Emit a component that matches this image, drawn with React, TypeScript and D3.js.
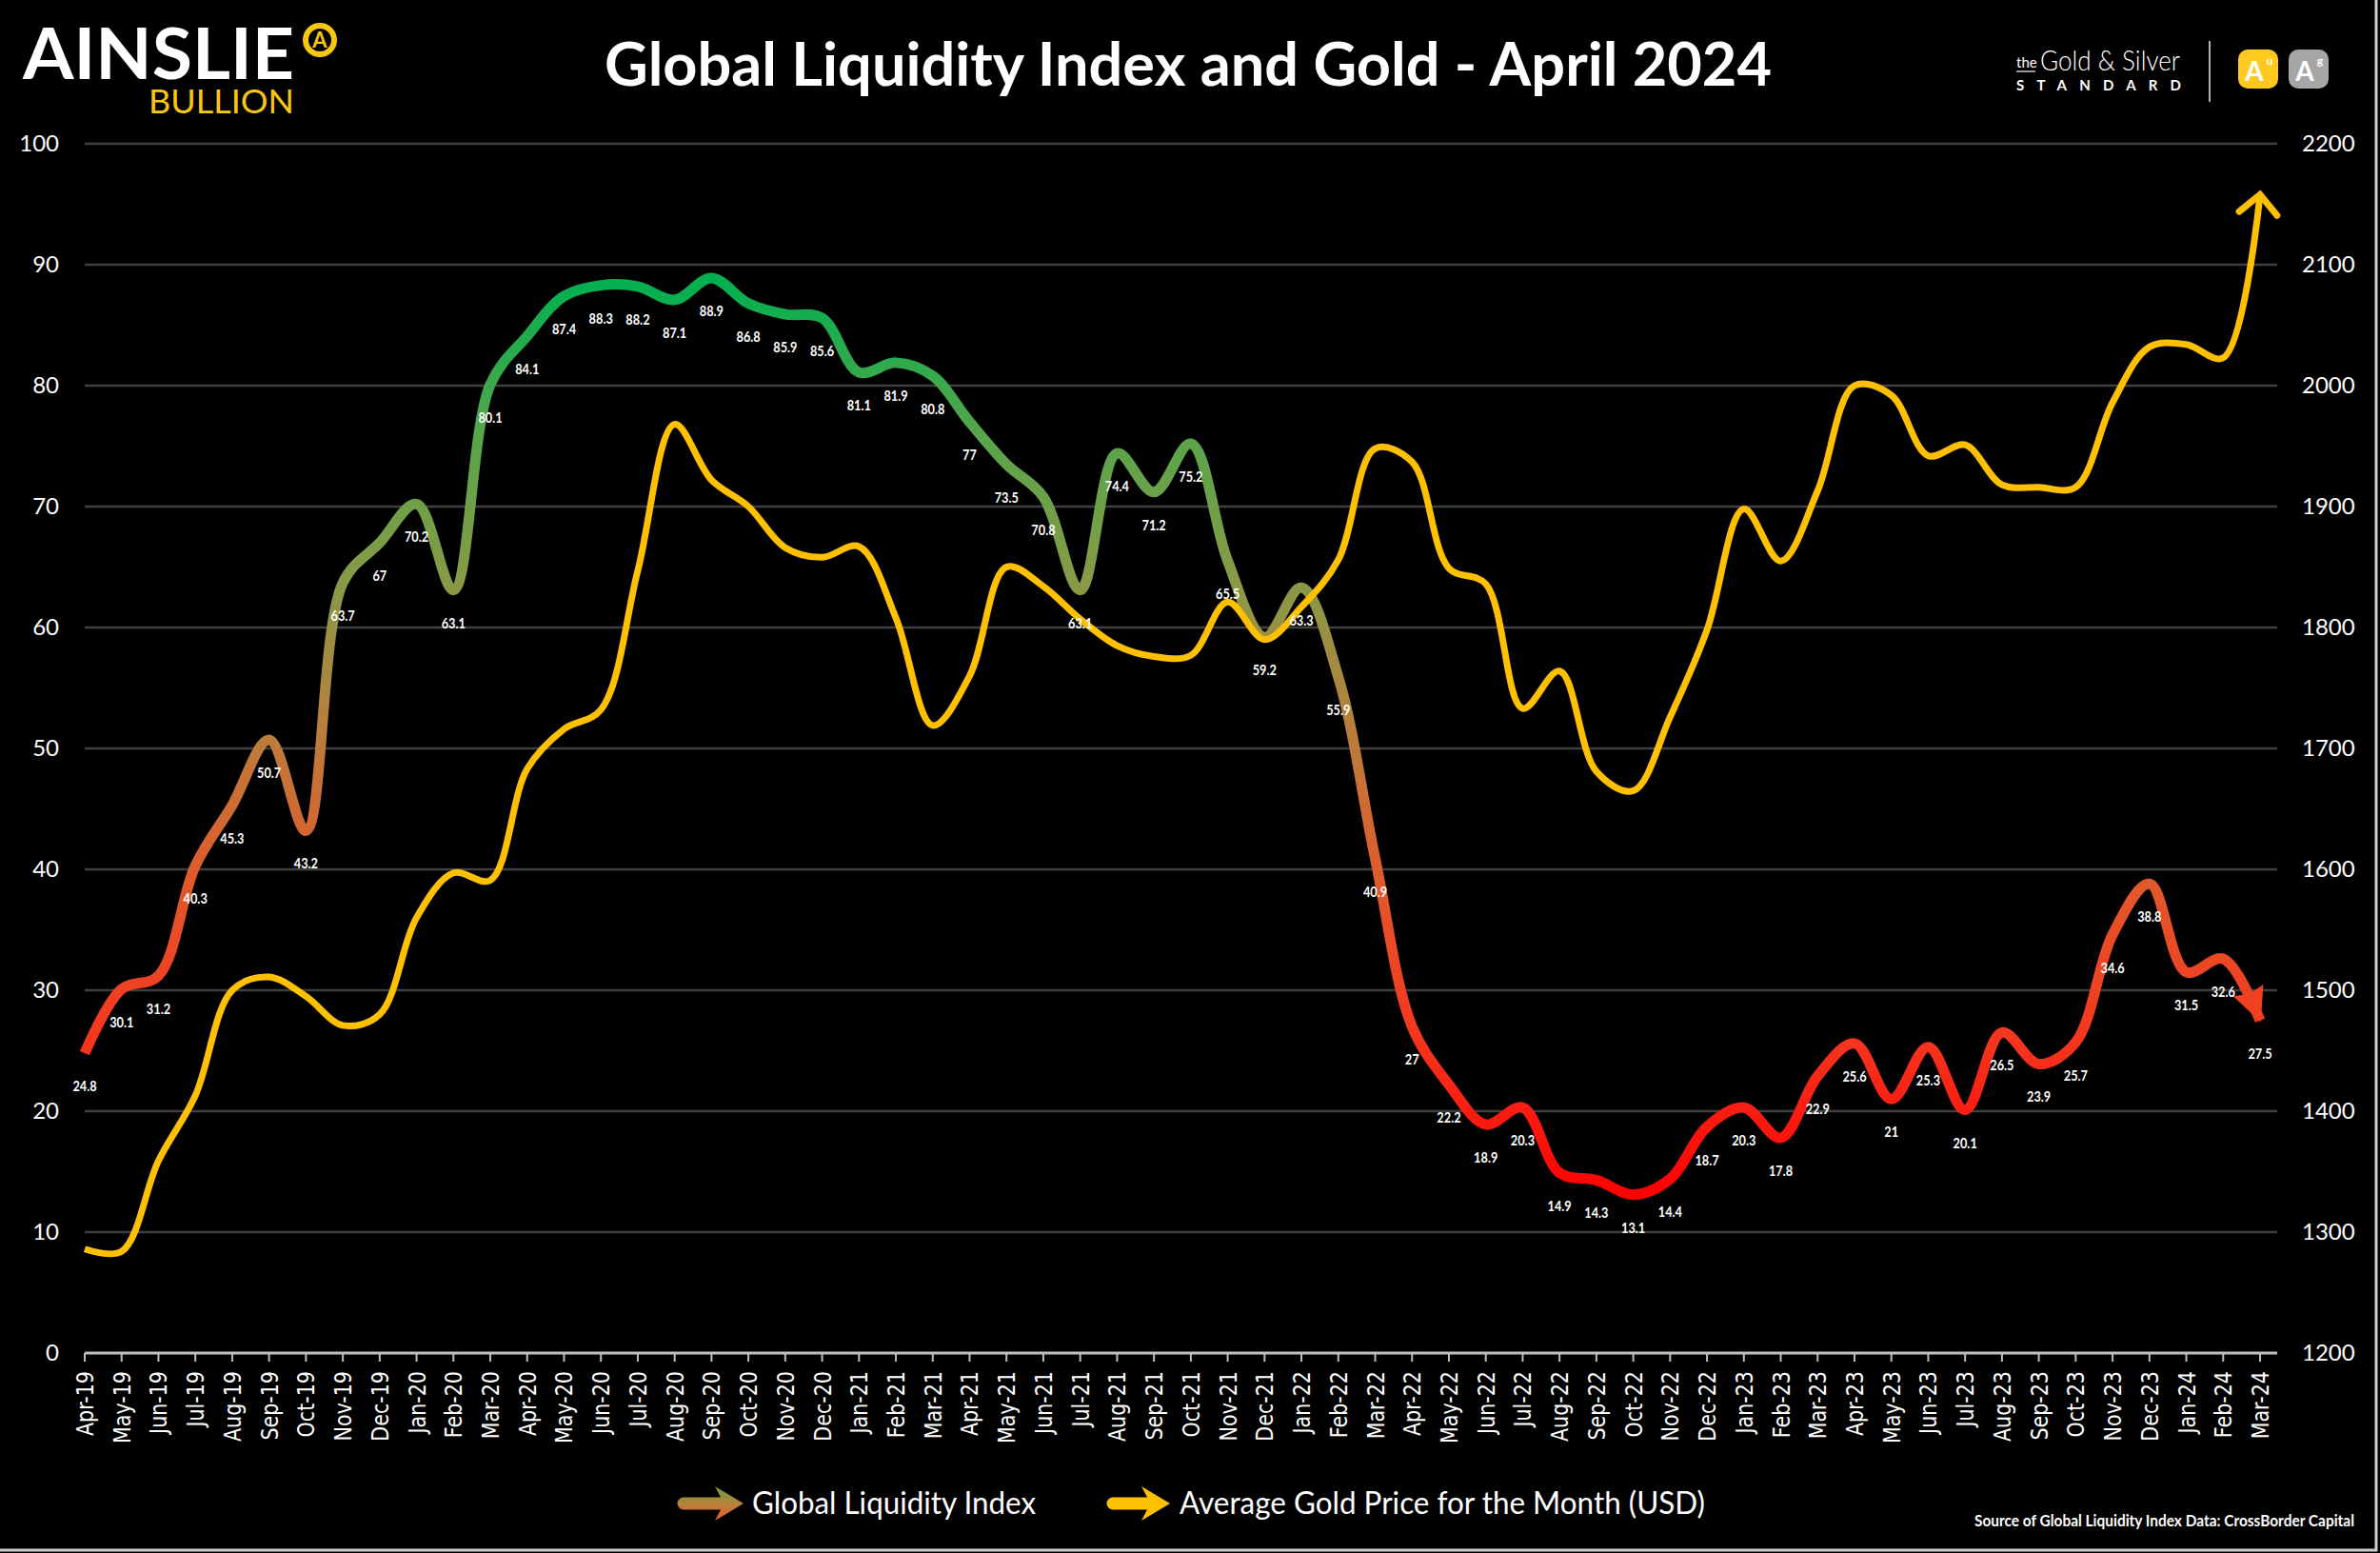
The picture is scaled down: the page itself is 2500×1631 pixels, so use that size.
import * as d3 from "d3";

// month categories on the x axis
const months = [
    "Apr-19", "May-19", "Jun-19", "Jul-19", "Aug-19", "Sep-19", "Oct-19", "Nov-19", "Dec-19",
    "Jan-20", "Feb-20", "Mar-20", "Apr-20", "May-20", "Jun-20", "Jul-20", "Aug-20", "Sep-20", "Oct-20", "Nov-20", "Dec-20",
    "Jan-21", "Feb-21", "Mar-21", "Apr-21", "May-21", "Jun-21", "Jul-21", "Aug-21", "Sep-21", "Oct-21", "Nov-21", "Dec-21",
    "Jan-22", "Feb-22", "Mar-22", "Apr-22", "May-22", "Jun-22", "Jul-22", "Aug-22", "Sep-22", "Oct-22", "Nov-22", "Dec-22",
    "Jan-23", "Feb-23", "Mar-23", "Apr-23", "May-23", "Jun-23", "Jul-23", "Aug-23", "Sep-23", "Oct-23", "Nov-23", "Dec-23",
    "Jan-24", "Feb-24", "Mar-24",
];

// Global Liquidity Index (left axis)
const liquidityIndex = [
    24.8, 30.1, 31.2, 40.3, 45.3, 50.7, 43.2, 63.7, 67, 70.2,
    63.1, 80.1, 84.1, 87.4, 88.3, 88.2, 87.1, 88.9, 86.8, 85.9,
    85.6, 81.1, 81.9, 80.8, 77, 73.5, 70.8, 63.1, 74.4, 71.2,
    75.2, 65.5, 59.2, 63.3, 55.9, 40.9, 27, 22.2, 18.9, 20.3,
    14.9, 14.3, 13.1, 14.4, 18.7, 20.3, 17.8, 22.9, 25.6, 21,
    25.3, 20.1, 26.5, 23.9, 25.7, 34.6, 38.8, 31.5, 32.6, 27.5,
];

// average gold price for the month, USD (right axis)
const goldPrice = [
    1286, 1284, 1359, 1413, 1500, 1511, 1495, 1471, 1480, 1560,
    1597, 1591, 1683, 1716, 1732, 1847, 1968, 1922, 1900, 1866,
    1858, 1867, 1808, 1719, 1760, 1850, 1834, 1807, 1785, 1776,
    1777, 1821, 1790, 1817, 1856, 1948, 1937, 1849, 1836, 1733,
    1764, 1681, 1665, 1726, 1798, 1898, 1855, 1913, 2000, 1992,
    1942, 1951, 1918, 1916, 1916, 1986, 2032, 2034, 2023, 2158,
];

// colour of the liquidity line by index level
const liquidityStops = [
    { value: 89, color: "#00b050" },
    { value: 76, color: "#56a54a" },
    { value: 64, color: "#879a47" },
    { value: 51, color: "#bb7d3b" },
    { value: 39, color: "#e1592b" },
    { value: 26, color: "#f5361f" },
    { value: 13, color: "#ff0000" },
];

const W = 2500;
const H = 1631;
const plot = { left: 89, right: 2374, gridRight: 2392, top: 151, bottom: 1421 };
const sans = "Lato, 'Open Sans', sans-serif";
const gold = "#FFC000";

const legendArrow = (x0: number, x1: number, cy: number) =>
    `M${x0 + 6},${cy - 6.5} L${x1 - 24},${cy - 6.5} L${x1 - 30},${cy - 18} L${x1},${cy} ` +
    `L${x1 - 30},${cy + 18} L${x1 - 24},${cy + 6.5} L${x0 + 6},${cy + 6.5} ` +
    `A6.5,6.5 0 0 1 ${x0 + 6},${cy - 6.5} Z`;

export default function App() {
    const x = d3.scalePoint<string>().domain(months).range([plot.left, plot.right]);
    const yLeft = d3.scaleLinear().domain([0, 100]).range([plot.bottom, plot.top]);
    const yRight = d3.scaleLinear().domain([1200, 2200]).range([plot.bottom, plot.top]);

    const curve = d3.curveCatmullRom.alpha(0.5);
    const liquidityLine = d3
        .line<number>()
        .x((_, i) => x(months[i])!)
        .y((d) => yLeft(d))
        .curve(curve);
    const goldLine = d3
        .line<number>()
        .x((_, i) => x(months[i])!)
        .y((d) => yRight(d))
        .curve(curve);

    const leftTicks = yLeft.ticks(10);
    const rightTicks = yRight.ticks(10);
    const firstStop = liquidityStops[0].value;
    const lastStop = liquidityStops[liquidityStops.length - 1].value;

    return (
        <svg
            width={W}
            height={H}
            style={{ position: "absolute", left: 0, top: 0, display: "block", background: "#000" }}
        >
            <defs>
                <linearGradient
                    id="liqGrad"
                    gradientUnits="userSpaceOnUse"
                    x1={0}
                    x2={0}
                    y1={yLeft(firstStop)}
                    y2={yLeft(lastStop)}
                >
                    {liquidityStops.map((s, i) => (
                        <stop key={i} offset={(firstStop - s.value) / (firstStop - lastStop)} stopColor={s.color} />
                    ))}
                </linearGradient>
                <linearGradient id="legendGrad" x1={0} x2={0} y1={0} y2={1}>
                    <stop offset="0" stopColor="#6a9c3c" />
                    <stop offset="0.5" stopColor="#b5833c" />
                    <stop offset="1" stopColor="#e8562a" />
                </linearGradient>
                <marker
                    id="goldHead"
                    markerUnits="userSpaceOnUse"
                    viewBox="-30 -30 40 60"
                    markerWidth={40}
                    markerHeight={60}
                    refX={0}
                    refY={0}
                    orient="auto"
                    overflow="visible"
                >
                    <path d="M-20,-20 L0,0 L-20,20" fill="none" stroke={gold} strokeWidth={7} strokeLinecap="round" strokeLinejoin="miter" />
                </marker>
                <marker
                    id="liqHead"
                    markerUnits="userSpaceOnUse"
                    viewBox="-40 -20 44 40"
                    markerWidth={44}
                    markerHeight={40}
                    refX={0}
                    refY={0}
                    orient="auto"
                    overflow="visible"
                >
                    <path d="M2,0 L-34,-17 L-30,0 L-34,17 Z" fill="#f0401f" />
                </marker>
            </defs>

            <rect x={0} y={0} width={W} height={H} fill="#000" />

            {/* logo left */}
            <text x={24} y={83} fill="#fff" fontFamily={sans} fontWeight={700} fontSize={74} textLength={285} lengthAdjust="spacingAndGlyphs">
                AINSLIE
            </text>
            <circle cx={336} cy={42} r={15} fill="#000" stroke="#F9C80E" strokeWidth={6} />
            <text x={336} y={50} fill="#F9C80E" fontFamily={sans} fontWeight={700} fontSize={22} textAnchor="middle">
                A
            </text>
            <text x={156} y={119} fill="#F9C80E" fontFamily={sans} fontWeight={400} fontSize={35} textLength={153} lengthAdjust="spacingAndGlyphs">
                BULLION
            </text>

            {/* title */}
            <text x={1248} y={90} fill="#fff" fontFamily={sans} fontWeight={700} fontSize={63} textAnchor="middle" textLength={1226} lengthAdjust="spacingAndGlyphs">
                Global Liquidity Index and Gold - April 2024
            </text>

            {/* logo right */}
            <text x={2118} y={71} fill="#fff" fontFamily={sans} fontSize={15}>the</text>
            <line x1={2118} x2={2138} y1={75} y2={75} stroke="#fff" strokeWidth={1.2} />
            <text x={2143} y={74} fill="#fff" fontFamily={sans} fontWeight={300} fontSize={30} textLength={147} lengthAdjust="spacingAndGlyphs">
                Gold &amp; Silver
            </text>
            <text x={2118} y={95} fill="#fff" fontFamily={sans} fontWeight={700} fontSize={15} textLength={173} lengthAdjust="spacing">
                STANDARD
            </text>
            <line x1={2321} x2={2321} y1={43} y2={107} stroke="#b0b0b0" strokeWidth={2} />
            <rect x={2351} y={52} width={42} height={41} rx={10} fill="#FFC91F" />
            <text x={2368} y={85} fill="#fff" fontFamily={sans} fontWeight={700} fontSize={28} textAnchor="middle">A</text>
            <text x={2384} y={68} fill="#fff" fontFamily={sans} fontWeight={700} fontSize={12} textAnchor="middle">u</text>
            <rect x={2404} y={52} width={42} height={41} rx={10} fill="#a6a6a6" />
            <text x={2421} y={85} fill="#fff" fontFamily={sans} fontWeight={700} fontSize={28} textAnchor="middle">A</text>
            <text x={2437} y={68} fill="#fff" fontFamily={sans} fontWeight={700} fontSize={12} textAnchor="middle">g</text>

            {/* gridlines */}
            {leftTicks.slice(1).map((t) => (
                <line key={t} x1={plot.left} x2={plot.gridRight} y1={yLeft(t)} y2={yLeft(t)} stroke="#404040" strokeWidth={2.5} />
            ))}

            {/* left axis labels */}
            {leftTicks.map((t) => (
                <text key={t} x={62} y={yLeft(t) + 8} fill="#fff" fontFamily={sans} fontSize={24} textAnchor="end">
                    {t}
                </text>
            ))}
            {/* right axis labels */}
            {rightTicks.map((t) => (
                <text key={t} x={2418} y={yRight(t) + 8} fill="#fff" fontFamily={sans} fontSize={24}>
                    {t}
                </text>
            ))}

            {/* x axis */}
            <line x1={plot.left} x2={plot.gridRight} y1={plot.bottom} y2={plot.bottom} stroke="#bfbfbf" strokeWidth={3} />
            {months.map((m) => (
                <g key={m} transform={`translate(${x(m)},${plot.bottom})`}>
                    <line y1={0} y2={9} stroke="#bfbfbf" strokeWidth={2} />
                    <text
                        transform="translate(9,19) rotate(-90) scale(0.86,1)"
                        fill="#fff"
                        fontFamily="'DejaVu Sans', Verdana, sans-serif"
                        fontSize={24}
                        textAnchor="end"
                    >
                        {m}
                    </text>
                </g>
            ))}

            {/* series */}
            <path
                d={liquidityLine(liquidityIndex)!}
                fill="none"
                stroke="url(#liqGrad)"
                strokeWidth={11}
                strokeLinejoin="round"
                markerEnd="url(#liqHead)"
            />
            <path
                d={goldLine(goldPrice)!}
                fill="none"
                stroke={gold}
                strokeWidth={7}
                strokeLinejoin="round"
                markerEnd="url(#goldHead)"
            />

            {/* data labels */}
            {liquidityIndex.map((v, i) => (
                <text
                    key={i}
                    transform={`translate(${x(months[i])},${yLeft(v) + 40}) scale(0.85,1)`}
                    fill="#fff"
                    fontFamily={sans}
                    fontWeight={700}
                    fontSize={15}
                    textAnchor="middle"
                >
                    {v}
                </text>
            ))}

            {/* legend */}
            <path d={legendArrow(712, 781, 1579)} fill="url(#legendGrad)" />
            <text x={790} y={1590} fill="#fff" fontFamily={sans} fontSize={33} textLength={298} lengthAdjust="spacingAndGlyphs">
                Global Liquidity Index
            </text>
            <path d={legendArrow(1163, 1229, 1579)} fill={gold} />
            <text x={1239} y={1590} fill="#fff" fontFamily={sans} fontSize={33} textLength={552} lengthAdjust="spacingAndGlyphs">
                Average Gold Price for the Month (USD)
            </text>
            <text x={2473} y={1603} fill="#fff" fontFamily={sans} fontWeight={700} fontSize={17} textAnchor="end" textLength={399} lengthAdjust="spacingAndGlyphs">
                Source of Global Liquidity Index Data: CrossBorder Capital
            </text>

            {/* frame edges */}
            <line x1={2496} x2={2496} y1={0} y2={1629} stroke="#cfcfcf" strokeWidth={3} />
            <line x1={0} x2={2497} y1={1628} y2={1628} stroke="#cfcfcf" strokeWidth={3} />
        </svg>
    );
}
